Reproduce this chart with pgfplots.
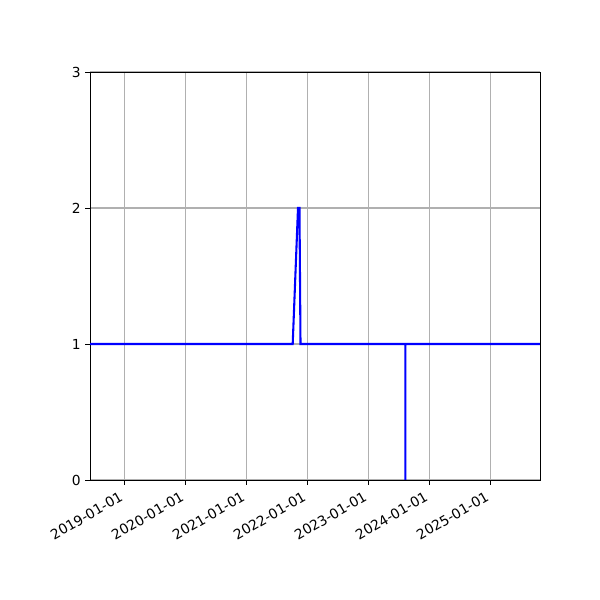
\documentclass[border=0pt]{standalone}
\usepackage{fontspec}
\setmainfont{DejaVu Sans}
\usepackage{pgfplots}
\pgfplotsset{compat=1.18}
\begin{document}
\begin{tikzpicture}
\useasboundingbox (0,0) rectangle (6in,6in);
\begin{axis}[
    at={(0.9in,1.2in)}, anchor=south west,
    scale only axis, width=4.5in, height=4.08in,
    xmin=2018.438, xmax=2025.815, ymin=0, ymax=3,
    xtick={2019,2020,2021,2022,2023,2024,2025},
    xticklabels={2019-01-01,2020-01-01,2021-01-01,2022-01-01,2023-01-01,2024-01-01,2025-01-01},
    ytick={0,1,2,3},
    /pgf/number format/assume math mode=true,
    grid=major,
    grid style={color=black!31, line width=0.8pt},
    axis line style={line width=0.7pt},
    tick align=outside, tick pos=left,
    major tick length=3.5pt,
    tick style={black, line width=0.7pt},
    xticklabel style={xshift=-3.6pt, yshift=-2.9pt, rotate=30, anchor=north east, inner sep=1pt, font=\fontsize{10}{12}\selectfont},
    yticklabel style={inner sep=3pt, font=\fontsize{10}{12}\selectfont},
]
\addplot[blue, line width=1.5pt, line join=miter] coordinates {
    (2018.438,1) (2021.761,1) (2021.848,2) (2021.872,2) (2021.889,1)
    (2023.607,1) (2023.607,0) (2023.607,1) (2025.815,1)
};
\end{axis}
\end{tikzpicture}
\end{document}
